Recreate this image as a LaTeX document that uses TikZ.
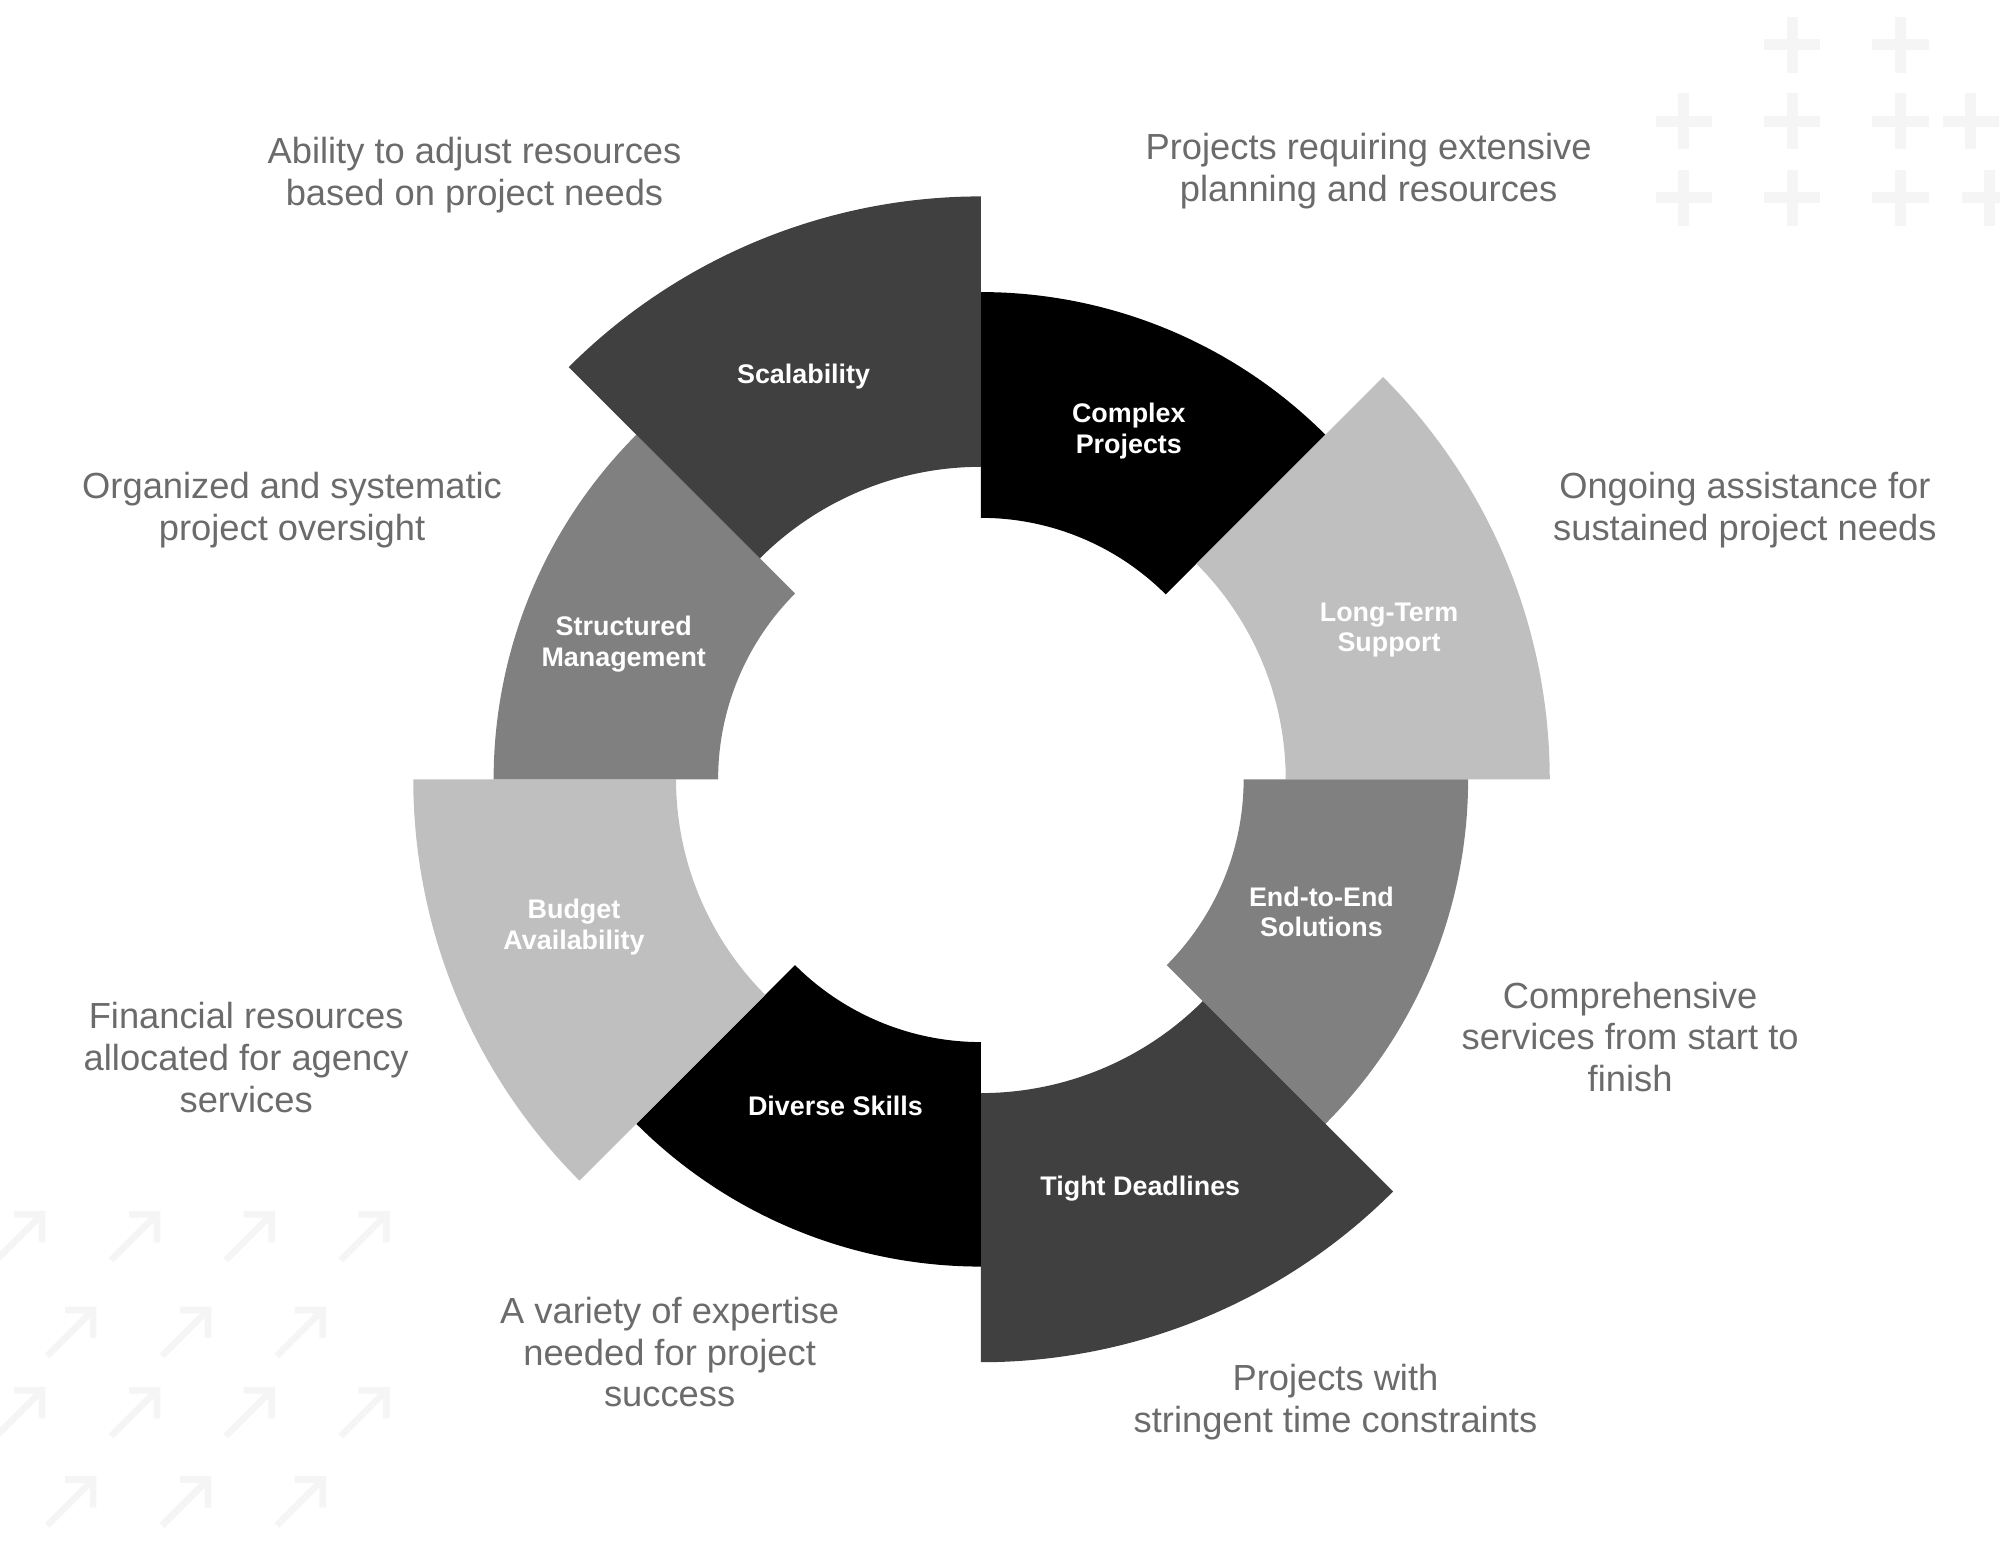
\documentclass[tikz,border=0pt]{standalone}
\usepackage{fontspec}
\setmainfont{Liberation Sans}
\begin{document}
\begin{tikzpicture}[x=0.02cm,y=0.02cm,
  lab/.style={text=white,font=\fontsize{12}{13.6}\selectfont\bfseries,align=center},
  desc/.style={text=black!58,font=\fontsize{16.2}{18.7}\selectfont,align=center},
  deco/.style={line width=5pt,draw=black!4,line cap=butt}]
\useasboundingbox (0,0) rectangle (1568,1223);
\definecolor{lt}{HTML}{BFBFBF}\definecolor{md}{HTML}{808080}\definecolor{dk}{HTML}{404040}
% decorations
\foreach \x/\y in {1405/1188,1490/1188,1320/1128,1405/1128,1490/1128,1545/1128,1320/1068,1405/1068,1490/1068,1560/1068}{
  \draw[deco] (\x-22,\y)--(\x+22,\y) (\x,\y-22)--(\x,\y+22);}
\foreach \x/\y in {15/253,105/253,195/253,285/253,55/178,145/178,235/178,15/115,105/115,195/115,285/115,55/45,145/45,235/45}{
  \draw[deco,line width=3pt] (\x-18,\y-18)--(\x+18,\y+18) (\x-4,\y+18)--(\x+18,\y+18)--(\x+18,\y-4);}
\newcommand{\sect}[5]{\fill[#5,shift={(769,612)}] (#1:#3) -- (#1:#4) arc[start angle=#1,end angle=#2,radius=#4] -- (#2:#3) arc[start angle=#2,end angle=#1,radius=#3] -- cycle;}
\sect{45}{90}{205}{382}{black}
\sect{0}{45}{239}{446}{lt}
\sect{-45}{0}{206}{382}{md}
\sect{-90}{-45}{246}{457}{dk}
\sect{-135}{-90}{206}{382}{black}
\sect{180}{225}{239}{445}{lt}
\sect{135}{180}{206}{382}{md}
\sect{90}{135}{245}{457}{dk}
\node[lab] (s1) at (885,885) {Complex\\Projects};
\node[lab] (s2) at (1089,729) {Long-Term\\Support};
\node[lab] (s3) at (1036,508) {End-to-End\\Solutions};
\node[lab] (s4) at (894,291) {Tight Deadlines};
\node[lab] (s5) at (655,356) {Diverse Skills};
\node[lab] (s6) at (450,496) {Budget\\Availability};
\node[lab] (s7) at (489,718) {Structured\\Management};
\node[lab] (s8) at (630,928) {Scalability};
\node[desc] (d1) at (1073,1089) {Projects requiring extensive\\planning and resources};
\node[desc] (d2) at (1368,823) {Ongoing assistance for\\sustained project needs};
\node[desc] (d3) at (1278,410) {Comprehensive\\services from start to\\finish};
\node[desc] (d4) at (1047,124) {Projects with\\stringent time constraints};
\node[desc] (d5) at (525,163) {A variety of expertise\\needed for project\\success};
\node[desc] (d6) at (193,394) {Financial resources\\allocated for agency\\services};
\node[desc] (d7) at (229,823) {Organized and systematic\\project oversight};
\node[desc] (d8) at (372,1086) {Ability to adjust resources\\based on project needs};
\end{tikzpicture}
\end{document}
